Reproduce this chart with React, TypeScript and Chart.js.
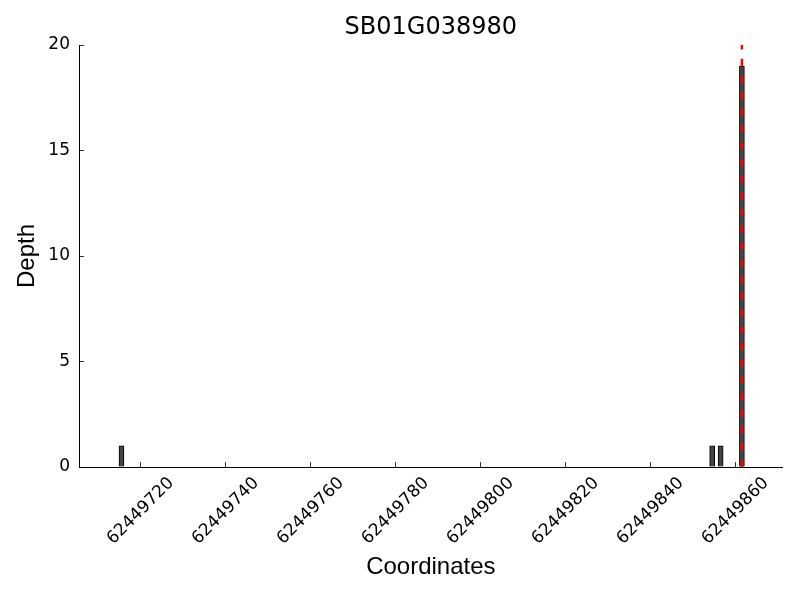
import React, { useEffect, useRef } from "react";
import { Chart, registerables } from "chart.js";

Chart.register(...registerables);

const chartTitle = "SB01G038980";
const xAxisTitle = "Coordinates";
const yAxisTitle = "Depth";

// bin start coordinates (each bin is 1 bp wide) and their read depth
const binStarts = [62449715, 62449854, 62449856, 62449861];
const depths = [1, 1, 1, 19];

// red dashed marker position
const markerPosition = 62449861.5;

const xTickValues = [62449720, 62449740, 62449760, 62449780, 62449800, 62449820, 62449840, 62449860];
const yTickValues = [0, 5, 10, 15, 20];
const xMin = 62449705.5;
const xMax = 62449871.1;
const yMin = 0;
const yMax = 20;

const markerPlugin = {
  id: "markerLine",
  afterDatasetsDraw(chart: any) {
    const xs = chart.scales.x;
    const ys = chart.scales.y;
    const ctx = chart.ctx;
    const px = xs.getPixelForValue(markerPosition);
    ctx.save();
    ctx.strokeStyle = "#ff0000";
    ctx.lineWidth = 2.5;
    ctx.setLineDash([7.5, 9.2]);
    ctx.beginPath();
    ctx.moveTo(px, ys.getPixelForValue(yMin));
    ctx.lineTo(px, ys.getPixelForValue(yMax));
    ctx.stroke();
    ctx.restore();
  },
};

const xLabelPlugin = {
  id: "xRotatedLabels",
  afterDraw(chart: any) {
    const xs = chart.scales.x;
    const ctx = chart.ctx;
    const yCenter = chart.chartArea.bottom + 44;
    ctx.save();
    ctx.fillStyle = "#000000";
    ctx.font = '17px "DejaVu Sans"';
    ctx.textAlign = "center";
    ctx.textBaseline = "middle";
    xs.ticks.forEach((t: any) => {
      const px = xs.getPixelForValue(t.value);
      ctx.save();
      ctx.translate(px, yCenter);
      ctx.rotate(-Math.PI / 4);
      ctx.fillText(String(t.value), 0, 0);
      ctx.restore();
    });
    ctx.restore();
  },
};

export default function App() {
  const canvasRef = useRef<HTMLCanvasElement | null>(null);

  useEffect(() => {
    if (!canvasRef.current) return;
    const data = binStarts.map((s, i) => ({ x: s + 0.5, y: depths[i] }));
    const chart = new Chart(canvasRef.current, {
      type: "bar",
      data: {
        datasets: [
          {
            data,
            backgroundColor: "#444444",
            borderColor: "#000000",
            borderWidth: 1,
            barThickness: 5,
          },
        ],
      },
      options: {
        animation: false,
        responsive: false,
        devicePixelRatio: 1,
        layout: { padding: { right: 17.3, left: 0, top: 0, bottom: 0 } },
        plugins: {
          legend: { display: false },
          tooltip: { enabled: false },
          title: {
            display: true,
            text: chartTitle,
            fullSize: false,
            color: "#000000",
            font: { family: "DejaVu Sans", size: 24, weight: "normal" },
            padding: { top: 13.6, bottom: 2.6 },
          },
        },
        scales: {
          x: {
            type: "linear",
            min: xMin,
            max: xMax,
            offset: false,
            afterBuildTicks: (scale: any) => {
              scale.ticks = xTickValues.map((v) => ({ value: v }));
            },
            afterFit: (scale: any) => {
              scale.height = 133;
            },
            ticks: { display: false },
            grid: {
              offset: false,
              drawOnChartArea: false,
              drawTicks: true,
              tickLength: -5,
              color: "#333333",
              lineWidth: 1,
            },
            border: { display: true, color: "#000000", width: 1 },
            title: {
              display: true,
              text: xAxisTitle,
              color: "#000000",
              font: { family: "Liberation Sans", size: 24 },
              padding: { top: 0, bottom: 18.6 },
            },
          },
          y: {
            type: "linear",
            min: yMin,
            max: yMax,
            afterBuildTicks: (scale: any) => {
              scale.ticks = yTickValues.map((v) => ({ value: v }));
            },
            afterFit: (scale: any) => {
              scale.width = 79;
            },
            ticks: {
              color: "#000000",
              font: { family: "DejaVu Sans", size: 17 },
              padding: 14,
              callback: (v: any) => String(v),
            },
            grid: {
              drawOnChartArea: false,
              drawTicks: true,
              tickLength: -5,
              color: "#333333",
              lineWidth: 1,
            },
            border: { display: true, color: "#000000", width: 1 },
            title: {
              display: true,
              text: yAxisTitle,
              color: "#000000",
              font: { family: "Liberation Sans", size: 24 },
              padding: { top: 12.6, bottom: 0 },
            },
          },
        },
      },
      plugins: [markerPlugin, xLabelPlugin],
    } as any);
    return () => chart.destroy();
  }, []);

  return (
    <div style={{ position: "absolute", left: 0, top: 0, width: 800, height: 600, background: "#ffffff" }}>
      <canvas ref={canvasRef} width={800} height={600} style={{ display: "block" }} />
    </div>
  );
}
